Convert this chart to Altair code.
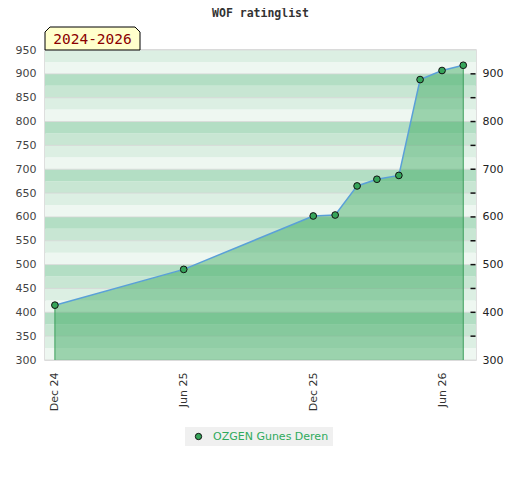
import altair as alt
import pandas as pd

# ---- data ----
dates = ["2024-12-01", "2025-06-01", "2025-12-01", "2026-01-01", "2026-02-01",
         "2026-03-01", "2026-04-01", "2026-05-01", "2026-06-01", "2026-07-01"]
ratings = [415, 490, 602, 604, 665, 679, 687, 888, 907, 918]
player = "OZGEN Gunes Deren"
title_text = "WOF ratinglist"
badge_text = "2024-2026"

y_min, y_max = 300, 950
band_colors = ["#eef7f1", "#dcefe3", "#c8e6d3", "#b3dec4"]

df = pd.DataFrame({"date": dates, "rating": ratings, "player": player})
edges = df.iloc[[0, -1]].reset_index(drop=True)

band_starts = list(range(y_min, y_max, 25))
bands = pd.DataFrame({
    "start": band_starts,
    "end": [s + 25 for s in band_starts],
    "color": [band_colors[(s % 100) // 25] for s in band_starts],
})
grid = pd.DataFrame({"v": list(range(y_min, y_max + 1, 50))})
right_ticks = pd.DataFrame({"v": list(range(y_min + 50, 901, 50))})

W, H = 431, 310

xscale = alt.Scale(
    type="utc",
    domain=[alt.DateTime(year=2024, month=11, date=17, utc=True),
            alt.DateTime(year=2026, month=7, date=19, utc=True)],
)
yscale = alt.Scale(domain=[y_min, y_max], zero=False, nice=False)

x_axis = alt.Axis(
    values=[alt.DateTime(year=2024, month=12, date=1, utc=True),
            alt.DateTime(year=2025, month=6, date=1, utc=True),
            alt.DateTime(year=2025, month=12, date=1, utc=True),
            alt.DateTime(year=2026, month=6, date=1, utc=True)],
    format="%b %y", labelAngle=270, labelAlign="right", labelBaseline="middle",
    ticks=False, domain=False, grid=False, title=None, labelPadding=12,
    labelColor="#333333", labelFont="DejaVu Sans", labelFontSize=11,
)

left_axis = alt.Axis(
    orient="left", values=list(range(300, 951, 50)), ticks=False, domain=False,
    grid=False, title=None, labelPadding=9, labelColor="#444444",
    labelFont="DejaVu Sans", labelFontSize=11,
)
right_axis = alt.Axis(
    orient="right", values=list(range(300, 901, 100)), ticks=False,
    domain=False, grid=False, title=None,
    labelPadding=6, labelColor="#222222", labelFont="DejaVu Sans", labelFontSize=11,
)

band_layer = alt.Chart(bands).mark_rect().encode(
    y=alt.Y("start:Q", scale=yscale, axis=left_axis),
    y2="end:Q",
    color=alt.Color("color:N", scale=None, legend=None),
)

grid_layer = alt.Chart(grid).mark_rule(color="#d6d6d6", strokeWidth=1, opacity=0.8).encode(
    y=alt.Y("v:Q", scale=yscale, axis=right_axis),
)

area_layer = alt.Chart(df).mark_area(color="#36a75a", opacity=0.45).encode(
    x=alt.X("date:T", scale=xscale, axis=x_axis),
    y=alt.Y("rating:Q", scale=yscale, axis=None),
    y2=alt.datum(y_min),
)

edge_layer = alt.Chart(edges).mark_rule(color="#3c9f5c", strokeWidth=1).encode(
    x=alt.X("date:T", scale=xscale, axis=x_axis),
    y=alt.Y("rating:Q", scale=yscale, axis=None),
    y2=alt.datum(y_min),
)

line_layer = alt.Chart(df).mark_line(color="#5aa0d8", strokeWidth=1.5).encode(
    x=alt.X("date:T", scale=xscale, axis=x_axis),
    y=alt.Y("rating:Q", scale=yscale, axis=None),
)

tick_layer = alt.Chart(right_ticks).mark_tick(
    color="#111111", thickness=1.5, size=5, orient="horizontal", opacity=1
).encode(
    y=alt.Y("v:Q", scale=yscale, axis=None),
    x=alt.value(W - 3),
)

point_layer = alt.Chart(df).mark_point(
    filled=True, stroke="#111111", strokeWidth=1, size=45, opacity=1
).encode(
    x=alt.X("date:T", scale=xscale, axis=x_axis),
    y=alt.Y("rating:Q", scale=yscale, axis=None),
    fill=alt.Fill(
        "player:N",
        scale=alt.Scale(range=["#36a55a"]),
        legend=alt.Legend(
            title=None, orient="none", legendX=140, legendY=377,
            fillColor="#f0f0f0", padding=4, symbolType="circle", symbolSize=40,
            symbolStrokeColor="#111111", symbolStrokeWidth=1,
            labelColor="#2eaa5c", labelFont="DejaVu Sans", labelFontSize=11,
            labelOffset=9, symbolOffset=4,
        ),
    ),
)

one = pd.DataFrame({"t": [title_text], "b": [badge_text]})

title_layer = alt.Chart(one).mark_text(
    font="DejaVu Sans Mono", fontSize=11.5, fontWeight="bold", color="#333333",
    align="center", baseline="middle",
).encode(x=alt.value(W / 2), y=alt.value(-36), text="t:N")

badge_shape = ("M-1,0.242L-1,-0.137L-0.895,-0.242L0.895,-0.242"
               "L1,-0.137L1,0.242Z")
badge_box = alt.Chart(one).mark_point(
    shape=badge_shape, filled=True, fill="#ffffcc", stroke="#000000",
    strokeWidth=1, size=95 * 95, opacity=1,
).encode(x=alt.value(47.5), y=alt.value(-11.5))

badge_label = alt.Chart(one).mark_text(
    font="DejaVu Sans Mono", fontSize=14.5, color="#8b0000",
    align="center", baseline="middle",
).encode(x=alt.value(47.5), y=alt.value(-10.5), text="b:N")

chart = alt.layer(
    band_layer, grid_layer, area_layer, edge_layer, line_layer, tick_layer,
    point_layer, title_layer, badge_box, badge_label,
).resolve_axis(y="independent").properties(
    width=W, height=H,
    autosize=alt.AutoSizeParams(type="none"),
    padding={"left": 37, "top": 42, "right": 36, "bottom": 100},
).configure_view(stroke="#d4d4d4", strokeWidth=1.5)

chart.save("out.html", embed_options={"renderer": "svg", "actions": False})
